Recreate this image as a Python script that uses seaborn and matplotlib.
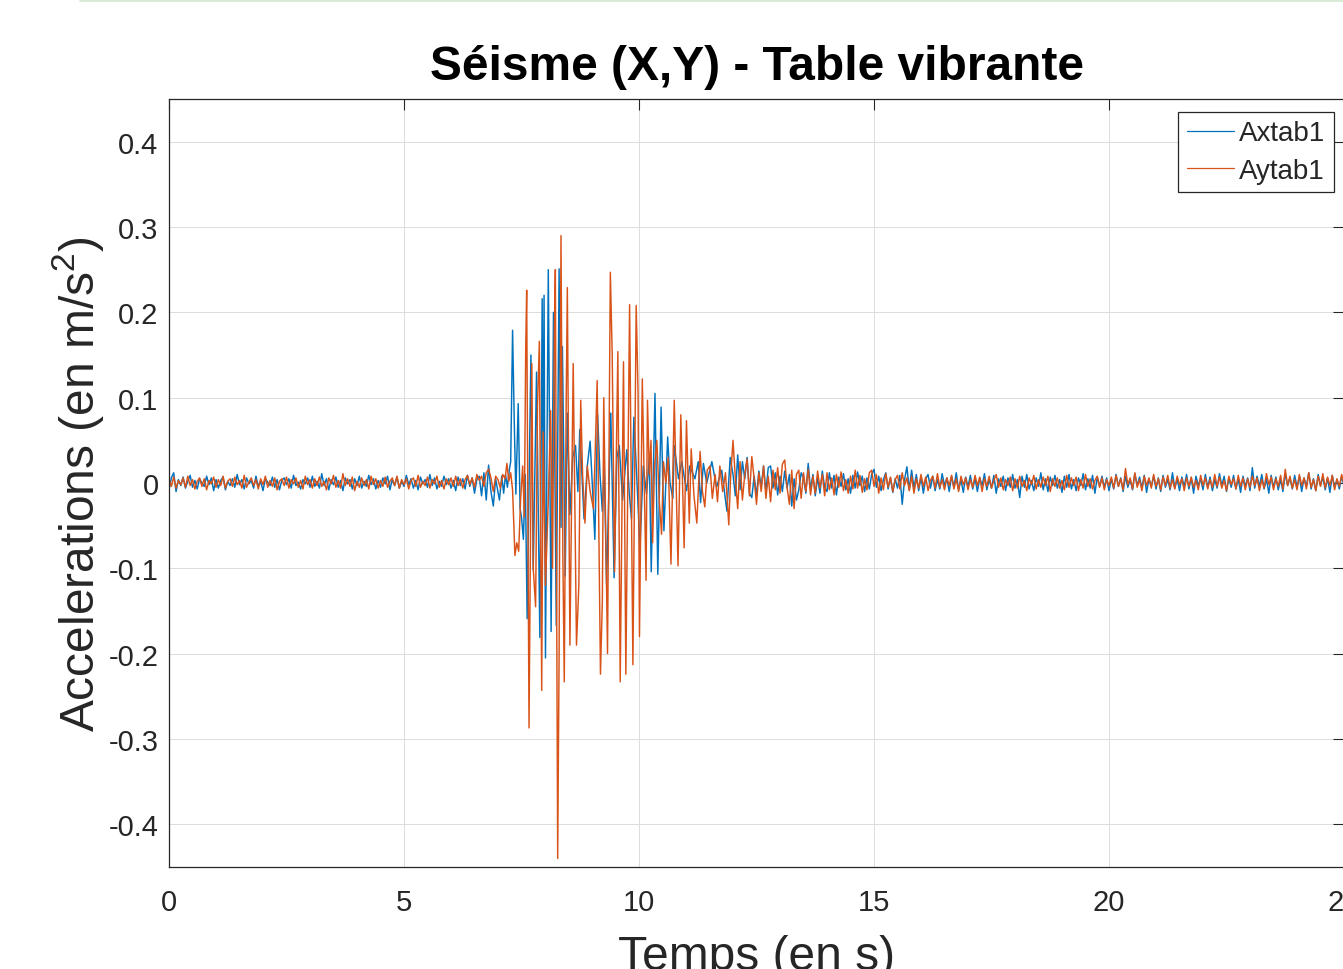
import numpy as np
import pandas as pd
import matplotlib
matplotlib.use("Agg")
import matplotlib.pyplot as plt
from matplotlib.lines import Line2D
from matplotlib.ticker import MultipleLocator, FuncFormatter
import seaborn as sns

# --- data (accelerations in 0.001 m/s^2) ---
DT = 0.05              # sampling step of the quiet parts (s)
T_PRE_START = 0.0
T_POST_START = 12.0

# Axtab1, quiet part before the shock (0 -> 6.95 s)
AX_PRE = [
    -8, 6, 12, -10, 4, -3, 7, -6, 2, 9, -5, 3, -7, 5, 0, -4, 8, -2, 6, -9,
    4, -6, 3, 7, -8, 2, -3, 5, -5, 10, -2, 4, -7, 6, -1, 3, -6, 8, -4, 2,
    -9, 5, 1, -3, 7, -5, 4, -8, 3, 6, -2, 5, -6, 9, -3, 1, -7, 4, -1, 6,
    -5, 8, -4, 2, -6, 11, -3, 5, -8, 4, -2, 7, -5, 3, -9, 6, -1, 4, -7, 5,
    -3, 8, -6, 2, -4, 9, -2, 5, -7, 3, -5, 6, -1, 8, -8, 4, -3, 7, -6, 2,
    -4, 9, -2, 5, -6, 3, -8, 7, -1, 4, -5, 10, -3, 6, -7, 2, -4, 8, -2, 5,
    -6, 3, -9, 7, -3, 5, -7, 9, -4, 6, -12, 4, 8, -15, 12, -20, 21, -10, -27, 5,
]
# Aytab1, quiet part before the shock
AY_PRE = [
    5, -4, 7, -6, 3, -2, 6, -5, 8, -3, 4, -7, 2, 6, -4, 5, -8, 3, -1, 7,
    -5, 4, -3, 8, -6, 2, 5, -4, 7, -2, 3, -6, 9, -5, 1, 6, -3, 4, -7, 5,
    -2, 8, -5, 3, -4, 6, -8, 2, 5, -3, 7, -6, 4, -1, 6, -5, 3, -7, 8, -2,
    4, -6, 5, -3, 7, -4, 2, -8, 6, -1, 9, -5, 3, -6, 11, -3, 5, -4, 7, -9,
    2, -5, 6, -3, 4, -7, 8, -2, 5, -6, 3, -4, 7, -5, 2, 6, -3, 8, -6, 4,
    -2, 5, -7, 3, 6, -4, 9, -5, 2, -3, 7, -6, 4, -1, 8, -5, 3, -7, 5, -2,
    6, -4, 8, -3, 5, -6, 4, 9, -2, 6, -5, 10, 3, 8, -4, 12, 16, 6, -10, 8,
]

# strong motion, peaks read one by one (7 -> 12 s)
T_X_BURST = [
    7.03, 7.08, 7.12, 7.16, 7.20, 7.24, 7.27, 7.31, 7.35, 7.38,
    7.43, 7.47, 7.50, 7.54, 7.58, 7.62, 7.70, 7.75, 7.82, 7.89,
    7.94, 7.96, 7.98, 8.01, 8.07, 8.13, 8.18, 8.24, 8.30, 8.34,
    8.37, 8.43, 8.475, 8.53, 8.59, 8.65, 8.70, 8.74, 8.83, 8.90,
    8.96, 9.01, 9.06, 9.12, 9.17, 9.22, 9.26, 9.31, 9.40, 9.47,
    9.53, 9.58, 9.65, 9.74, 9.79, 9.84, 9.89, 9.95, 10.02, 10.09,
    10.16, 10.22, 10.26, 10.34, 10.40, 10.47, 10.53, 10.61, 10.66, 10.72,
    10.75, 10.84, 10.91, 11.01, 11.08, 11.19, 11.26, 11.31, 11.37, 11.44,
    11.55, 11.65, 11.76, 11.87, 11.94,
]
AX_BURST = [
    -20, 8, -12, 10, -5, 15, 25, 179, 60, -13,
    93, -30, -40, -66, 10, -159, 150, -102, 130, -181,
    216, -20, 220, -205, 250, -174, 200, -167, 251, -52,
    160, -109, 82, -37, 30, 44, -10, 63, -42, 20,
    49, -5, -66, 80, 10, -33, 20, -119, 82, -111,
    30, 44, -20, 39, -10, -42, 77, 10, -76, 20,
    -13, 30, -104, 105, -107, 89, -56, 54, 0, -18,
    44, 5, 25, -9, 20, 5, 25, -23, 23, 0,
    25, -5, 15, -33, 30,
]
T_Y_BURST = [
    7.00, 7.05, 7.10, 7.15, 7.19, 7.23, 7.27, 7.31, 7.36, 7.40,
    7.44, 7.48, 7.525, 7.56, 7.59, 7.61, 7.66, 7.72, 7.75, 7.80,
    7.84, 7.88, 7.93, 7.96, 8.01, 8.07, 8.12, 8.16, 8.20, 8.22,
    8.27, 8.30, 8.34, 8.38, 8.41, 8.45, 8.475, 8.53, 8.60, 8.67,
    8.72, 8.76, 8.80, 8.85, 8.90, 8.96, 9.03, 9.07, 9.11, 9.18,
    9.22, 9.25, 9.33, 9.39, 9.43, 9.48, 9.55, 9.60, 9.67, 9.72,
    9.80, 9.87, 9.94, 9.98, 10.01, 10.07, 10.15, 10.18, 10.22, 10.255,
    10.29, 10.33, 10.38, 10.43, 10.48, 10.52, 10.57, 10.62, 10.68, 10.75,
    10.83, 10.89, 10.96, 11.01, 11.07, 11.11, 11.17, 11.23, 11.30, 11.35,
    11.40, 11.45, 11.51, 11.56, 11.62, 11.67, 11.72, 11.78, 11.84, 11.91,
    11.95,
]
AY_BURST = [
    4, -6, 10, 5, 23, 2, 12, -8, -85, -70,
    -80, -20, 20, -40, 160, 226, -287, 140, -100, -145,
    90, 166, -243, 60, -120, -20, 85, -100, 180, 250,
    -440, -200, 290, -85, -233, 90, 229, -190, 140, -190,
    -120, 97, 10, -47, 20, -10, -30, 40, 120, -224,
    -138, 100, -200, 247, 150, -104, 154, -233, 142, -224,
    209, -213, 208, 106, -180, 122, -114, 97, 10, 50,
    -70, 20, 50, -20, -60, 25, 0, 30, -95, 97,
    -97, 80, -76, 73, -47, 40, -15, -47, 37, -10,
    -28, 15, 20, -18, 10, -22, 20, -10, 12, -49,
    8,
]

# coda and quiet part after the shock (12 -> 25 s)
AX_POST = [
    10, -15, 33, -8, 25, 5, 30, -12, -17, 8, -15, 14, -5, 20, -10, 18, 20, -6, 12, -14,
    8, -10, 14, -6, 10, -27, 5, -20, -8, 12, 6, -12, 23, -8, 10, -15, 6, -12, 14, -5,
    -10, 12, -6, 9, -14, 7, -4, 11, -8, 5, -12, 9, -6, 13, -3, 8, -10, 6, -7, 10,
    16, -5, 8, -9, 4, 12, -7, 6, -11, 5, -6, 9, -25, 4, 19, -8, 15, -6, 10, -9,
    7, -12, 5, 10, -6, 8, -9, 4, -7, 11, -3, 6, -10, 8, -5, 12, -8, 4, -11, 7,
    -4, 9, -7, 5, -10, 6, -3, 11, -8, 4, -6, 9, -12, 5, -4, 8, -9, 6, -5, 10,
    -6, 4, -17, 8, -5, 10, -7, 3, -9, 6, -4, 12, -8, 5, -10, 7, -3, 9, -6, 4,
    -11, 8, -5, 10, -7, 4, -9, 6, -3, 11, -8, 5, -6, 9, -12, 7, -4, 8, -5, 6,
    -9, 5, -7, 10, -4, 6, -10, 8, -5, 4, -8, 11, -3, 7, -6, 9, -11, 5, -4, 8,
    -7, 6, -10, 9, -5, 4, -8, 12, -6, 5, -9, 7, -4, 10, -7, 6, -12, 8, -3, 5,
    -8, 10, -5, 7, -9, 4, -6, 11, -3, 8, -10, 6, -5, 9, -7, 5, -11, 8, -4, 6,
    -9, 18, -6, 8, -4, 10, -7, 5, -12, 9, -5, 7, -8, 4, -10, 11, -3, 6, -7, 9,
    -5, 8, -10, 6, -4, 12, -7, 5, -9, 10, -3, 7, -8, 6, -11, 9, -5, 4, -7, 8,
    -3,
]
AY_POST = [
    50, 5, -30, 25, -20, 10, 28, -15, 31, 5, -25, 12, -10, 20, -18, 8, -22, 15, -8, 18,
    -12, 22, 27, -5, -25, 15, -30, 10, 15, -18, 12, -10, 16, -14, 8, -12, 14, -6, 10, -15,
    12, -8, 6, -14, 10, -5, 13, -9, 4, -12, 8, -7, 15, -6, 9, -11, 5, -8, 12, 15,
    -4, 10, -12, 6, -8, 11, -5, 7, -10, 4, 9, -7, 12, -3, 6, -9, 8, -12, 5, -6,
    10, -4, 7, -9, 3, 8, -6, 11, -5, 4, -8, 6, -3, 9, -7, 5, -10, 8, -2, 6,
    -8, 4, -5, 9, -3, 7, -10, 5, -4, 8, -6, 3, 10, -5, 6, -8, 4, -3, 7, -9,
    5, -6, 8, -4, 3, -9, 6, -2, 9, -7, 4, -5, 7, -3, 8, -10, 5, -4, 6, -6,
    3, -8, 9, -5, 6, -3, 7, -9, 4, -6, 10, -4, 5, -7, 3, 8, -5, 6, -8, 4,
    -3, 7, -6, 9, -4, 5, -8, 17, -2, 6, -7, 12, -5, 4, -9, 8, -3, 6, -6, 10,
    -4, 5, -8, 7, -3, 9, -6, 4, -7, 8, -2, 5, -9, 6, -4, 7, -5, 3, -8, 9,
    -3, 6, -7, 4, -5, 10, -4, 7, -6, 3, -9, 8, -2, 5, -7, 9, -4, 6, -8, 5,
    -5, 8, -3, 6, -9, 4, -6, 11, -2, 7, -8, 5, -4, 9, -7, 16, -3, 8, -6, 4,
    -8, 10, -3, 6, -7, 12, -5, 4, -9, 8, -4, 11, -6, 7, -3, 9, -8, 5, -4, 10,
    -2,
]

SERIES = ["Axtab1", "Aytab1"]
COLORS = {"Axtab1": "#0072BD", "Aytab1": "#D95319"}
Y_TICKS_STEP = 0.1
X_TICKS_STEP = 5


def build_series(name, pre, t_burst, burst, post):
    t = np.concatenate([
        T_PRE_START + DT * np.arange(len(pre)),
        np.array(t_burst),
        T_POST_START + DT * np.arange(len(post)),
    ])
    a = np.concatenate([pre, burst, post]) / 1000.0
    return pd.DataFrame({"t": t, "a": a, "signal": name})


df = pd.concat([
    build_series("Axtab1", AX_PRE, T_X_BURST, AX_BURST, AX_POST),
    build_series("Aytab1", AY_PRE, T_Y_BURST, AY_BURST, AY_POST),
], ignore_index=True)

# --- style ---
sns.set_theme(style="white")
plt.rcParams["font.family"] = ["Liberation Sans", "DejaVu Sans"]
plt.rcParams["mathtext.fontset"] = "custom"
plt.rcParams["mathtext.rm"] = "Liberation Sans"
plt.rcParams["mathtext.it"] = "Liberation Sans:italic"
plt.rcParams["axes.unicode_minus"] = False
TXT = "#262626"

fig = plt.figure(figsize=(13.43, 9.70), dpi=100)
ax = fig.add_axes([0.12584, 0.10515, 0.87491, 0.79175])

sns.lineplot(data=df, x="t", y="a", hue="signal", hue_order=SERIES,
             palette=COLORS, estimator=None, sort=False, linewidth=1.05, ax=ax)

ax.set_xlim(0, 25)
ax.set_ylim(-0.45, 0.45)
ax.xaxis.set_major_locator(MultipleLocator(X_TICKS_STEP))
ax.yaxis.set_major_locator(MultipleLocator(Y_TICKS_STEP))
ax.yaxis.set_major_formatter(FuncFormatter(lambda v, _: "0" if abs(v) < 1e-9 else f"{v:g}"))
ax.xaxis.set_major_formatter(FuncFormatter(lambda v, _: f"{v:g}"))

ax.grid(True, color="#dcdcdc", linewidth=0.7)
ax.set_axisbelow(True)
for s in ax.spines.values():
    s.set_color(TXT)
    s.set_linewidth(0.9)
ax.tick_params(direction="in", length=8, width=0.8, top=True, right=True,
               labelsize=21, colors=TXT)
ax.tick_params(axis="x", pad=15)
ax.tick_params(axis="y", pad=7.5)

ax.set_title("Séisme (X,Y) - Table vibrante", fontsize=34.5, fontweight="bold",
             color="black", pad=14.5)
ax.set_xlabel("Temps (en s)", fontsize=34.5, color=TXT, labelpad=13)
ax.set_ylabel("Accelerations (en m/s$^2$)", fontsize=34.5, color=TXT, labelpad=2)

old = ax.get_legend()
handles = old.legend_handles
labels = [t.get_text() for t in old.get_texts()]
leg = ax.legend(handles, labels, loc="upper right", bbox_to_anchor=(0.9915, 0.983),
                borderaxespad=0, fontsize=20, frameon=True, fancybox=False,
                framealpha=1, edgecolor=TXT, handlelength=1.7, handletextpad=0.2,
                borderpad=0.3, labelspacing=0.4)
leg.get_frame().set_linewidth(0.9)
for h in leg.legend_handles:
    h.set_linewidth(0.9)

# faint green strip at the very top of the screenshot
fig.add_artist(Line2D([80 / 1343, 1], [0.999, 0.999], transform=fig.transFigure,
                      color="#d5ebd5", linewidth=2))

fig.savefig("out.png", dpi=100)
